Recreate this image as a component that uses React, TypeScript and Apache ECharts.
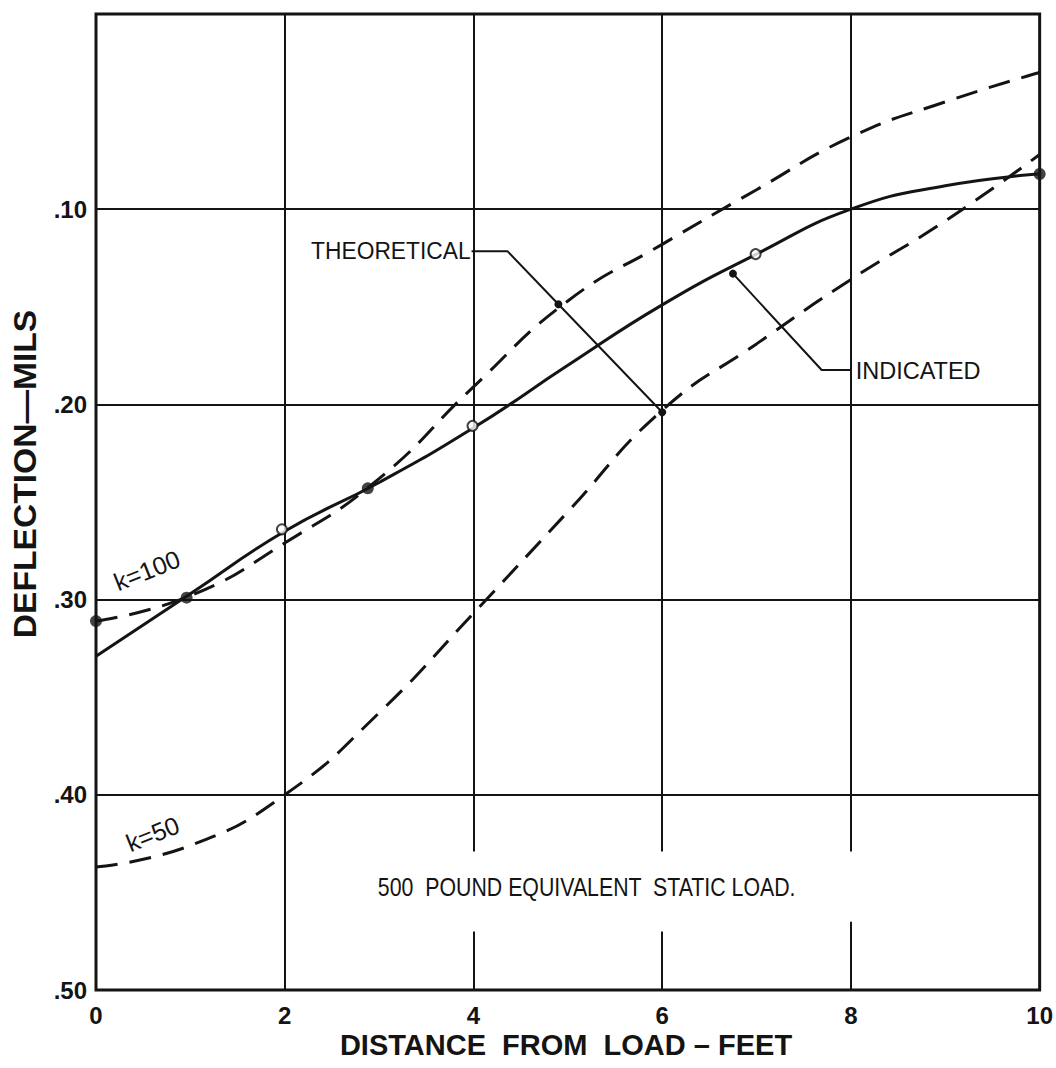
import React, { useEffect, useRef } from "react";
import * as echarts from "echarts";

// ---- Data ----
const xDistance = [0, 1, 2, 3, 4, 5, 6, 7, 8, 9, 10];
const indicatedCurve = [0.329, 0.297, 0.265, 0.24, 0.212, 0.18, 0.149, 0.123, 0.1, 0.088, 0.082];
const theoreticalK100 = [0.311, 0.298, 0.271, 0.238, 0.191, 0.147, 0.118, 0.09, 0.063, 0.045, 0.03];
const theoreticalK50 = [0.437, 0.426, 0.4, 0.358, 0.307, 0.255, 0.203, 0.169, 0.136, 0.106, 0.072];

const measuredFilledX = [0, 0.96, 2.88, 10];
const measuredFilledY = [0.311, 0.299, 0.243, 0.082];
const measuredOpenX = [1.97, 3.99, 6.99];
const measuredOpenY = [0.264, 0.211, 0.123];

const xTickLabels = ["0", "2", "4", "6", "8", "10"];
const yTickLabels = [".10", ".20", ".30", ".40", ".50"];

// vertical grid lines (x=4,6,8 interrupted by the note text)
const vGridX = [2, 4, 6, 8];
const vGridGapTop = [null, 0.429, 0.429, 0.429];
const vGridGapBottom = [null, 0.47, 0.47, 0.465];

// leader lines for the annotations
const theoreticalLeaderX = [3.98, 4.36, 4.9, 6.0];
const theoreticalLeaderY = [0.1215, 0.1215, 0.1487, 0.204];
const indicatedLeaderX = [8.0, 7.69, 6.75];
const indicatedLeaderY = [0.1824, 0.1824, 0.133];

const INK = "#141414";
const FONT = "Liberation Sans, Arial, sans-serif";

const zip = (xs: number[], ys: number[]) => xs.map((x, i) => [x, ys[i]]);

export default function App() {
  const ref = useRef<HTMLDivElement>(null);

  useEffect(() => {
    if (!ref.current) return;
    const chart = echarts.init(ref.current, null, { renderer: "svg" });

    const gridSegments: any[] = [];
    vGridX.forEach((x, i) => {
      const top = vGridGapTop[i];
      const bottom = vGridGapBottom[i];
      if (top == null || bottom == null) {
        gridSegments.push([{ coord: [x, 0] }, { coord: [x, 0.5] }]);
      } else {
        gridSegments.push([{ coord: [x, 0] }, { coord: [x, top] }]);
        gridSegments.push([{ coord: [x, bottom] }, { coord: [x, 0.5] }]);
      }
    });

    const curve = (name: string, ys: number[], dashed: boolean) => ({
      name,
      type: "line",
      smooth: 0.5,
      showSymbol: false,
      data: zip(xDistance, ys),
      lineStyle: { color: INK, width: 3, type: dashed ? [22, 12] : "solid" },
      z: 5,
    });

    const option: any = {
      animation: false,
      backgroundColor: "#ffffff",
      grid: {
        left: 96,
        right: 9,
        top: 14,
        bottom: 78,
        show: true,
        borderColor: INK,
        borderWidth: 3,
        backgroundColor: "transparent",
      },
      xAxis: {
        type: "value",
        min: 0,
        max: 10,
        interval: 2,
        axisLine: { show: false },
        axisTick: { show: false },
        splitLine: { show: false },
        axisLabel: {
          margin: 13,
          color: INK,
          fontSize: 24,
          fontWeight: "bold",
          fontFamily: FONT,
          formatter: (v: number) => xTickLabels[Math.round(v / 2)] ?? "",
        },
      },
      yAxis: {
        type: "value",
        inverse: true,
        min: 0,
        max: 0.5,
        interval: 0.1,
        axisLine: { show: false },
        axisTick: { show: false },
        splitLine: { show: true, lineStyle: { color: INK, width: 2 } },
        axisLabel: {
          margin: 9,
          color: INK,
          fontSize: 24,
          fontWeight: "bold",
          fontFamily: FONT,
          formatter: (v: number) => {
            const i = Math.round(v * 10) - 1;
            return i >= 0 ? yTickLabels[i] : "";
          },
        },
      },
      series: [
        {
          name: "grid",
          type: "line",
          data: [],
          silent: true,
          markLine: {
            silent: true,
            symbol: ["none", "none"],
            label: { show: false },
            lineStyle: { color: INK, width: 2, type: "solid" },
            data: gridSegments,
          },
        },
        curve("Indicated", indicatedCurve, false),
        curve("Theoretical k=100", theoreticalK100, true),
        curve("Theoretical k=50", theoreticalK50, true),
        {
          name: "Measured (solid)",
          type: "scatter",
          symbol: "circle",
          symbolSize: 12,
          data: zip(measuredFilledX, measuredFilledY),
          itemStyle: { color: INK },
          z: 8,
        },
        {
          name: "Measured (open)",
          type: "scatter",
          symbol: "circle",
          symbolSize: 10,
          data: zip(measuredOpenX, measuredOpenY),
          itemStyle: { color: "#ffffff", borderColor: INK, borderWidth: 2 },
          z: 8,
        },
        {
          name: "Theoretical leader",
          type: "line",
          data: zip(theoreticalLeaderX, theoreticalLeaderY).map((p, i) => ({
            value: p,
            symbol: i >= 2 ? "circle" : "none",
            symbolSize: 8,
          })),
          showAllSymbol: true,
          lineStyle: { color: INK, width: 2 },
          itemStyle: { color: INK },
          z: 6,
        },
        {
          name: "Indicated leader",
          type: "line",
          data: zip(indicatedLeaderX, indicatedLeaderY).map((p, i) => ({
            value: p,
            symbol: i === 2 ? "circle" : "none",
            symbolSize: 8,
          })),
          showAllSymbol: true,
          lineStyle: { color: INK, width: 2 },
          itemStyle: { color: INK },
          z: 6,
        },
      ],
    };

    chart.setOption(option);

    const px = (x: number, y: number) => chart.convertToPixel({ gridIndex: 0 }, [x, y]) as number[];
    const pTheo = px(3.97, 0.1215);
    const pInd = px(8.05, 0.1824);
    const pK100 = px(0.54, 0.285);
    const pK50 = px(0.6, 0.42);
    const pNote = px(5.2, 0.447);

    const txt = (
      pos: number[],
      text: string,
      size: number,
      align: string,
      opts: any = {}
    ) => ({
      type: "text",
      x: pos[0],
      y: pos[1],
      rotation: opts.rotation || 0,
      scaleX: opts.scaleX || 1,
      silent: true,
      z: 20,
      style: {
        text,
        fill: INK,
        font: `${opts.weight || "normal"} ${size}px ${FONT}`,
        align,
        verticalAlign: "middle",
      },
    });

    chart.setOption({
      graphic: [
        txt(pTheo, "THEORETICAL", 24, "right", { scaleX: 0.95 }),
        txt(pInd, "INDICATED", 24, "left", { scaleX: 0.98 }),
        txt(pK100, "k=100", 25, "center", { rotation: 0.38 }),
        txt(pK50, "k=50", 25, "center", { rotation: 0.38 }),
        txt(pNote, "500  POUND EQUIVALENT  STATIC LOAD.", 26, "center", { scaleX: 0.82 }),
        txt([566, 1045], "DISTANCE  FROM  LOAD – FEET", 29, "center", { weight: "bold", scaleX: 1.0 }),
        txt([25, 474], "DEFLECTION—MILS", 32, "center", { weight: "bold", rotation: Math.PI / 2, scaleX: 1.05 }),
      ],
    });

    return () => chart.dispose();
  }, []);

  return (
    <div
      ref={ref}
      style={{ position: "absolute", left: 0, top: 0, width: 1056, height: 1068, background: "#fff" }}
    />
  );
}
